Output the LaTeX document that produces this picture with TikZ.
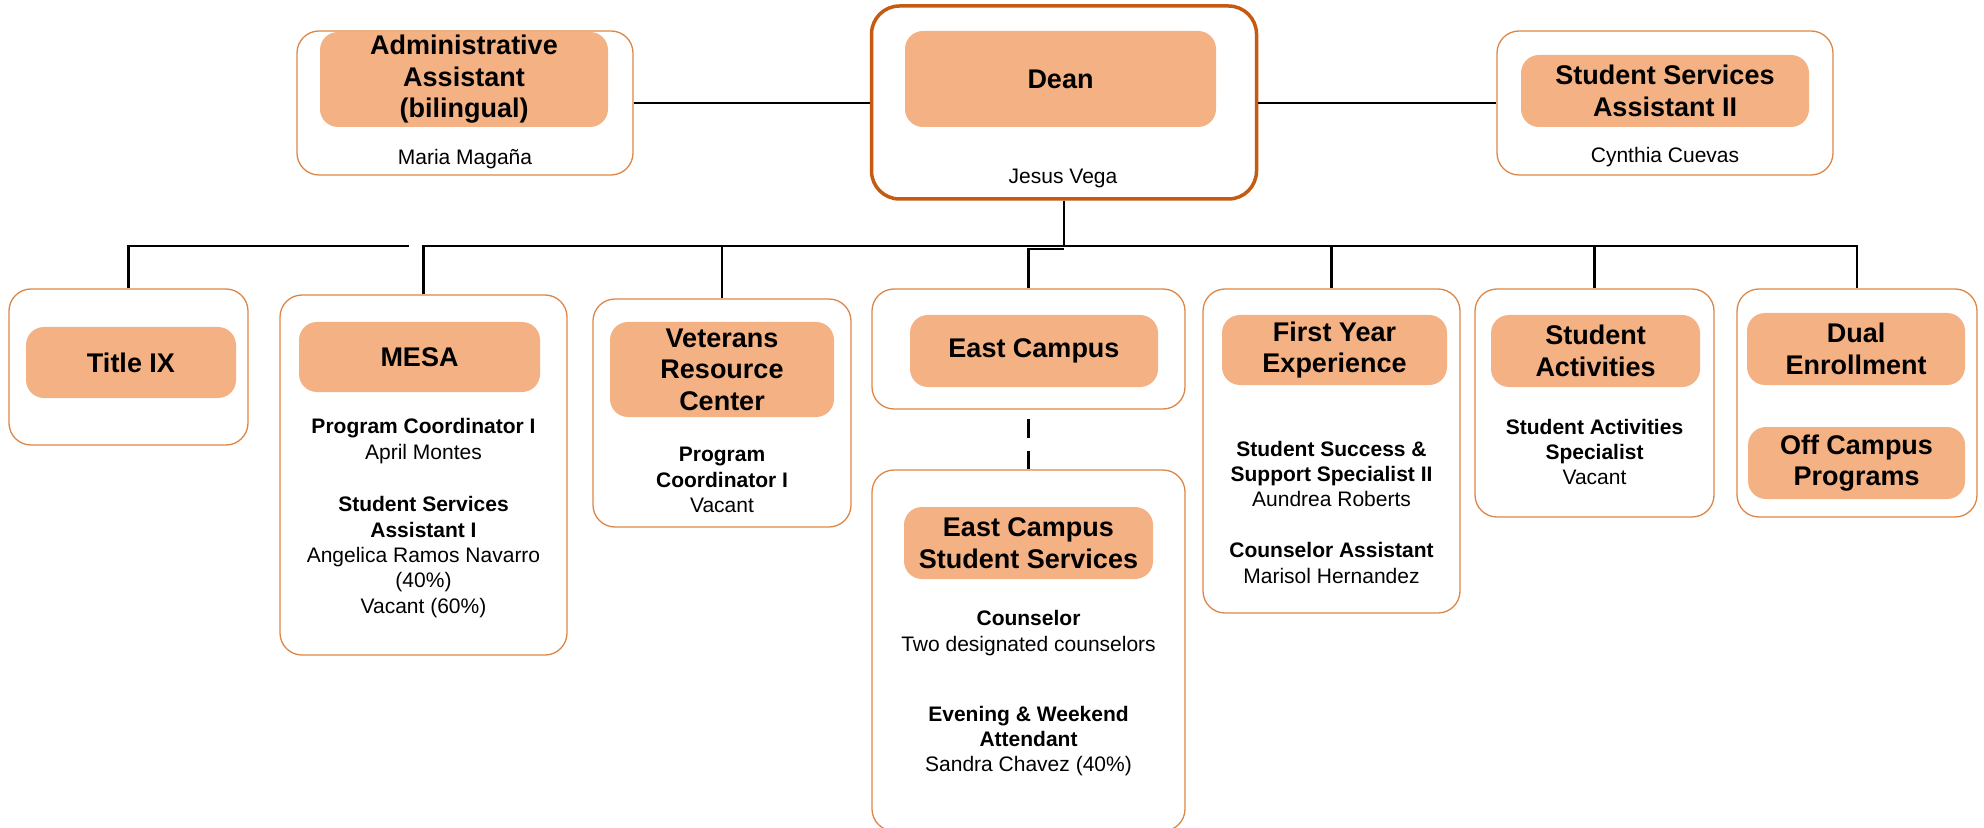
\documentclass[tikz,border=0pt]{standalone}
\usepackage{fontspec}
\setmainfont{Liberation Sans}
\usepackage{tikz}
\definecolor{headfill}{HTML}{F4B183}
\definecolor{unitline}{HTML}{DC8748}
\definecolor{deanline}{HTML}{C55A11}

\begin{document}
\begin{tikzpicture}[x=0.5pt,y=-0.5pt,
  unitbox/.style={draw=unitline,line width=0.65pt,fill=white,rounded corners=11pt,inner sep=0pt},
  headbox/.style={fill=headfill,rounded corners=9pt,inner sep=0pt,align=center,font=\fontsize{13.5}{15.75}\selectfont\bfseries},
  staff/.style={align=center,inner sep=0pt,font=\fontsize{10.5}{12.65}\selectfont},
  link/.style={line width=1.2pt,black}]

\useasboundingbox (0,0) rectangle (1984,828);
\clip (0,0) rectangle (1984,828);

\node[unitbox,minimum width=168pt,minimum height=72pt] (admin) at (465,103) {};
\node[headbox,minimum width=144pt,minimum height=47.5pt] (adminhead) at (464,79.5) {Administrative\\Assistant\\(bilingual)};
\node[staff] (adminname) at (465,159) {Maria Magaña};

\node[unitbox,draw=deanline,line width=1.75pt,rounded corners=14pt,minimum width=192.5pt,minimum height=96.5pt] (dean) at (1064,102.5) {};
\node[headbox,minimum width=155.5pt,minimum height=48pt] (deanhead) at (1060.5,79) {Dean};
\node[staff] (deanname) at (1063,178) {Jesus Vega};

\node[unitbox,minimum width=168pt,minimum height=72pt] (ssa) at (1665,103) {};
\node[headbox,minimum width=144pt,minimum height=36pt] (ssahead) at (1665,91) {Student Services\\Assistant II};
\node[staff] (ssaname) at (1665,157) {Cynthia Cuevas};

\node[unitbox,minimum width=119.5pt,minimum height=78pt] (titleix) at (128.5,367) {};
\node[headbox,minimum width=105pt,minimum height=35.5pt] (titleixhead) at (131,362.5) {Title IX};

\node[unitbox,minimum width=143.5pt,minimum height=180pt] (mesa) at (423.5,475) {};
\node[headbox,minimum width=120.5pt,minimum height=35pt] (mesahead) at (419.5,357) {MESA};
\node[staff] (mesacoord) at (423.5,441) {\textbf{Program Coordinator I}\\April Montes};
\node[staff] (mesaassist) at (423.5,557) {\textbf{Student Services}\\\textbf{Assistant I}\\Angelica Ramos Navarro\\(40\%)\\Vacant (60\%)};

\node[unitbox,minimum width=129pt,minimum height=114pt] (vet) at (722,413) {};
\node[headbox,minimum width=112pt,minimum height=47.5pt] (vethead) at (722,369.5) {Veterans\\Resource\\Center};
\node[staff] (vetcoord) at (722,480) {\textbf{Program}\\\textbf{Coordinator I}\\Vacant};

\node[unitbox,minimum width=156.5pt,minimum height=60pt] (east) at (1028.5,349) {};
\node[headbox,minimum width=124pt,minimum height=36pt] (easthead) at (1034,351) {East Campus};

\node[unitbox,minimum width=156.5pt,minimum height=180.5pt] (ecss) at (1028.5,650.5) {};
\node[headbox,minimum width=124.5pt,minimum height=36pt] (ecsshead) at (1028.5,543) {East Campus\\Student Services};
\node[staff] (ecsscouns) at (1028.5,633) {\textbf{Counselor}\\Two designated counselors};
\node[staff] (ecsseve) at (1028.5,741) {\textbf{Evening \& Weekend}\\\textbf{Attendant}\\Sandra Chavez (40\%)};

\node[unitbox,minimum width=128.5pt,minimum height=162pt] (fye) at (1331.5,451) {};
\node[headbox,minimum width=112.5pt,minimum height=35pt] (fyehead) at (1334.5,350) {First Year\\Experience};
\node[staff] (fyesss) at (1331.5,474) {\textbf{Student Success \&}\\\textbf{Support Specialist II}\\Aundrea Roberts};
\node[staff] (fyeca) at (1331.5,563) {\textbf{Counselor Assistant}\\Marisol Hernandez};

\node[unitbox,minimum width=119.5pt,minimum height=114pt] (act) at (1594.5,403) {};
\node[headbox,minimum width=104.5pt,minimum height=36pt] (acthead) at (1595.5,351) {Student\\Activities};
\node[staff] (actspec) at (1594.5,452) {\textbf{Student Activities}\\\textbf{Specialist}\\Vacant};

\node[unitbox,minimum width=120pt,minimum height=114pt] (dual) at (1857,403) {};
\node[headbox,minimum width=109pt,minimum height=36pt] (dualhead) at (1856,349) {Dual\\Enrollment};
\node[headbox,minimum width=108.5pt,minimum height=36pt] (offhead) at (1856.5,463) {Off Campus\\Programs};

\coordinate (bus) at (0,246);
\coordinate (busend) at (409,246);
\coordinate (eastjoin) at (0,249);

\draw[link] (admin.east) -- (admin.east -| dean.west);
\draw[link] (ssa.west -| dean.east) -- (ssa.west);
\draw[link] (dean.south) -- (dean.south |- bus);
\draw[link] (titleix.north) |- (busend);
\draw[link] (mesa.north) |- (dual.north |- bus) -- (dual.north);
\draw[link] (vet.north) -- (vet.north |- bus);
\draw[link] (east.north) |- (dean.south |- eastjoin);
\draw[link] (fye.north) -- (fye.north |- bus);
\draw[link] (act.north) -- (act.north |- bus);
\draw[link,dash pattern=on 9.5pt off 6.5pt,dash phase=11.5pt] (east.south) -- (ecss.north);

\end{tikzpicture}
\end{document}
